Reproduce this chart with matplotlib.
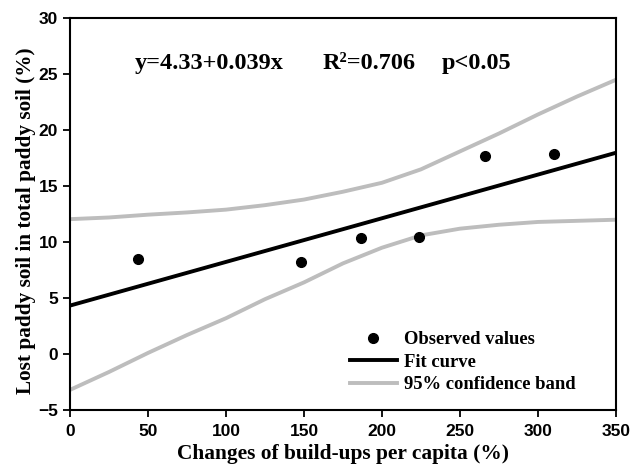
import matplotlib
matplotlib.use("Agg")
import matplotlib.pyplot as plt
from matplotlib.lines import Line2D

# observed points
obs_x = [43.5, 148.3, 186.5, 223.6, 265.8, 310.6]
obs_y = [8.46, 8.24, 10.33, 10.42, 17.68, 17.9]

# fit y = 4.33 + 0.039x
intercept, slope = 4.33, 0.039
fit_x = [0, 350]

# 95% confidence band
band_x = [0, 25, 50, 75, 100, 125, 150, 175, 200, 225, 250, 275, 300, 325, 350]
band_up = [12.05, 12.2, 12.45, 12.65, 12.9, 13.3, 13.8, 14.5, 15.3, 16.5, 18.1, 19.7, 21.4, 23.0, 24.5]
band_lo = [-3.2, -1.6, 0.1, 1.7, 3.2, 4.9, 6.4, 8.1, 9.5, 10.6, 11.2, 11.55, 11.8, 11.9, 12.0]

xticks = [0, 50, 100, 150, 200, 250, 300, 350]
yticks = [-5, 0, 5, 10, 15, 20, 25, 30]

serif = "Liberation Serif"
sans = "Liberation Sans"
band_col = "#bdbdbd"

fig = plt.figure(figsize=(6.33, 4.67), dpi=100)
ax = fig.add_axes([0.1106, 0.122, 0.8624, 0.839])

ax.plot(band_x, band_up, color=band_col, lw=2.8, solid_capstyle="butt")
ax.plot(band_x, band_lo, color=band_col, lw=2.8, solid_capstyle="butt")
ax.plot(fit_x, [intercept + slope * v for v in fit_x], color="black", lw=2.8)
ax.plot(obs_x, obs_y, "o", color="black", ms=7)

ax.set_xlim(0, 350)
ax.set_ylim(-5, 30)
ax.set_xticks(xticks)
ax.set_yticks(yticks)
for sp in ax.spines.values():
    sp.set_linewidth(1.5)
ax.tick_params(direction="out", length=5, width=1.3, labelsize=12.5)
ax.tick_params(axis="x", pad=5)
for lab in ax.get_xticklabels() + ax.get_yticklabels():
    lab.set_fontfamily(sans)
    lab.set_fontweight("bold")

ax.set_xlabel("Changes of build-ups per capita (%)", fontfamily=serif,
              fontweight="bold", fontsize=15.4, labelpad=4)
ax.set_ylabel("Lost paddy soil in total paddy soil (%)", fontfamily=serif,
              fontweight="bold", fontsize=15.3)
ax.yaxis.set_label_coords(-0.063, 0.482)

ax.text(41.7, 25.5, "y=4.33+0.039x", fontfamily=serif, fontweight="bold", fontsize=17.5)
ax.text(162.2, 25.5, "R\u00b2=0.706", fontfamily=serif, fontweight="bold", fontsize=17.5)
ax.text(238.5, 25.5, "p<0.05", fontfamily=serif, fontweight="bold", fontsize=17.5)

handles = [
    Line2D([], [], marker="o", ls="none", color="black", ms=7),
    Line2D([], [], color="black", lw=2.8),
    Line2D([], [], color=band_col, lw=2.8),
]
labels = ["Observed values", "Fit curve", "95% confidence band"]
ax.legend(handles, labels, loc="lower right", bbox_to_anchor=(0.957, 0.0),
          frameon=False, handlelength=2.5, handletextpad=0.4, labelspacing=0.3,
          prop={"family": serif, "weight": "bold", "size": 13.4})

fig.savefig("out.png", dpi=100)
